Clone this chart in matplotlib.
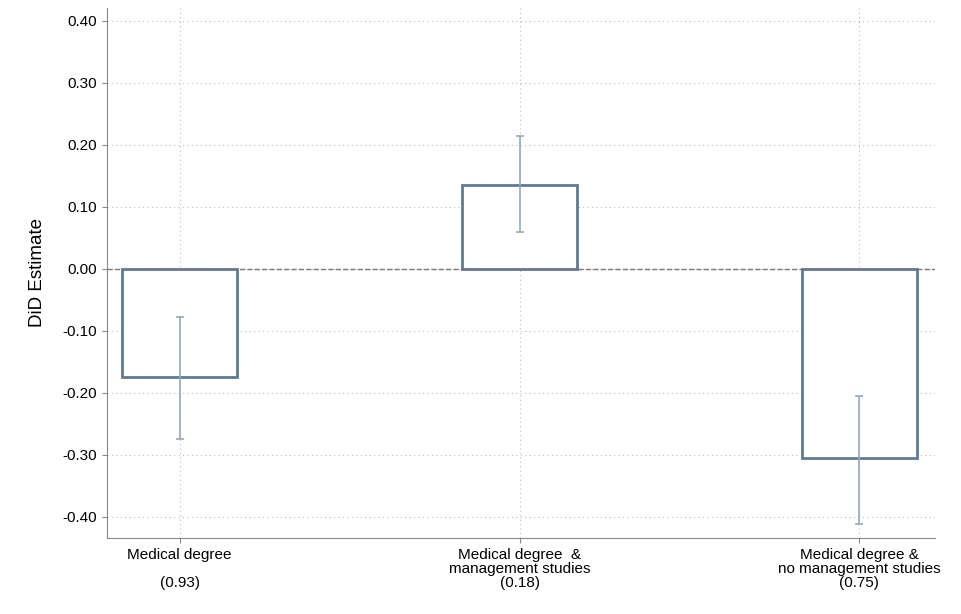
import matplotlib
matplotlib.use("Agg")
import matplotlib.pyplot as plt

plt.rcParams["font.family"] = ["Liberation Sans", "DejaVu Sans"]

CATEGORIES = [
    "Medical degree\n\n(0.93)",
    "Medical degree  &\nmanagement studies\n(0.18)",
    "Medical degree &\nno management studies\n(0.75)",
]
ESTIMATES = [-0.175, 0.135, -0.305]
CI_LOW = [-0.275, 0.060, -0.412]
CI_HIGH = [-0.078, 0.215, -0.205]
Y_TICKS = [0.40, 0.30, 0.20, 0.10, 0.00, -0.10, -0.20, -0.30, -0.40]

fig = plt.figure(figsize=(9.61, 6.14), dpi=100)
ax = fig.add_axes([0.111, 0.124, 0.862, 0.863])

x = list(range(len(CATEGORIES)))
ax.bar(x, ESTIMATES, width=0.34, facecolor="white", edgecolor="#5f7b93",
       linewidth=2.0, zorder=3)
lower = [e - lo for e, lo in zip(ESTIMATES, CI_LOW)]
upper = [hi - e for e, hi in zip(ESTIMATES, CI_HIGH)]
ax.errorbar(x, ESTIMATES, yerr=[lower, upper], fmt="none", ecolor="#95a8ba",
            elinewidth=1.2, capsize=3, capthick=1.2, zorder=4)
ax.axhline(0, color="#777777", linestyle="--", linewidth=1.0, zorder=4)

ax.set_xlim(-0.215, 2.223)
ax.set_ylim(-0.434, 0.421)
ax.set_yticks(Y_TICKS)
ax.set_yticklabels([f"{v:.2f}" for v in Y_TICKS])
ax.set_xticks(x)
ax.set_xticklabels(CATEGORIES, linespacing=1.0)
ax.tick_params(labelsize=11, color="#888888")
ax.set_ylabel("DiD Estimate", fontsize=13.5, labelpad=12)
ax.grid(True, linestyle=(0, (1, 3)), color="#bbbbbb", linewidth=0.8, zorder=0)
for side in ["top", "right"]:
    ax.spines[side].set_visible(False)
for side in ["left", "bottom"]:
    ax.spines[side].set_color("#888888")

fig.savefig("out.png", dpi=100)
